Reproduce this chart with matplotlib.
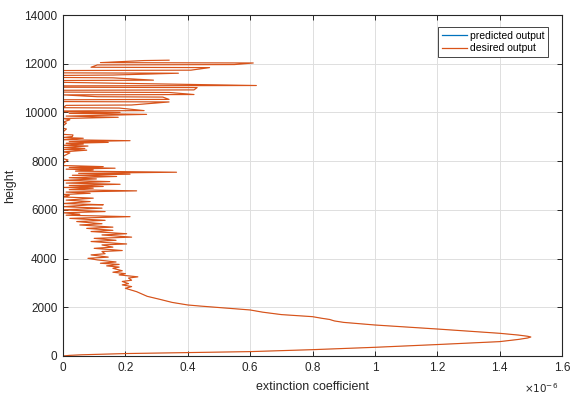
"""
Extinction coefficient profile: predicted vs desired output (MATLAB-style figure).
"""

import matplotlib
matplotlib.use("Agg")
import matplotlib.pyplot as plt
from matplotlib.lines import Line2D

plt.rcParams["font.family"] = ["Liberation Sans", "DejaVu Sans"]

# --------------------------------------------------------------------------- #
#  Data (extinction coefficient in units of 1e-6)
# --------------------------------------------------------------------------- #
height = [
    # smooth boundary layer part
    0, 25, 50, 100, 140, 180, 260, 357, 470, 590, 680, 740, 780, 810, 860,
    932, 1020, 1108, 1190, 1273, 1380, 1440, 1500, 1548, 1615, 1700, 1800,
    1890, 1990, 2050, 2095, 2200, 2328, 2450, 2641, 2780,
    # jagged part
    2850, 2920, 2970, 3060, 3110, 3200, 3250, 3330, 3380, 3440, 3500, 3600,
    3650, 3700, 3760, 3808, 3860, 3945, 4010, 4060, 4150, 4200, 4290, 4330,
    4420, 4470, 4560, 4600, 4700, 4750, 4830, 4880, 4970, 5020, 5110, 5160,
    5240, 5290, 5380, 5430, 5520, 5570, 5650, 5690, 5720, 5780, 5820, 5880,
    5930, 6000, 6070, 6130, 6200,
    # spiky middle part
    6210, 6260, 6340, 6400, 6480, 6530, 6590, 6630, 6680, 6730, 6780, 6830,
    6890, 6920, 6960, 7000, 7050, 7100, 7160, 7210, 7270, 7320, 7370, 7420,
    7465, 7500, 7545, 7590, 7640, 7670, 7710, 7740, 7775, 7820, 7900, 8000,
    8050, 8100, 8200, 8340, 8380, 8450, 8480, 8520, 8560, 8620, 8650, 8700,
    8730, 8770, 8800, 8840, 8880, 8940, 8970, 9010, 9075, 9100, 9200, 9320,
    9350, 9450, 9560, 9600, 9700, 9750, 9800, 9850, 9920, 9960, 10000, 10030,
    # noisy upper part
    10060, 10075, 10180, 10195, 10290, 10305, 10430, 10445, 10520, 10535,
    10630, 10645, 10720, 10735, 10820, 10835, 10910, 10925, 11020, 11035,
    11090, 11105, 11220, 11235, 11310, 11325, 11420, 11435, 11520, 11535,
    11610, 11625, 11720, 11735, 11840, 11855, 11950, 11965, 12030, 12045,
    12130, 12145,
]

desired = [
    0.0, 0.02, 0.06, 0.2, 0.4, 0.6, 0.8, 1.0, 1.2, 1.4, 1.46, 1.49, 1.5, 1.49, 1.46,
    1.4, 1.3, 1.2, 1.1, 1.0, 0.9, 0.87, 0.855, 0.83, 0.8, 0.7, 0.64,
    0.6, 0.5, 0.44, 0.4, 0.35, 0.31, 0.27, 0.236, 0.20,
    0.22, 0.19, 0.21, 0.19, 0.22, 0.21, 0.24, 0.18, 0.20, 0.16, 0.19, 0.16,
    0.18, 0.14, 0.18, 0.12, 0.17, 0.11, 0.08, 0.145, 0.09, 0.135, 0.125, 0.19,
    0.10, 0.16, 0.125, 0.204, 0.09, 0.17, 0.10, 0.22, 0.125, 0.204, 0.09, 0.16,
    0.076, 0.16, 0.054, 0.125, 0.044, 0.135, 0.022, 0.125, 0.215, 0.01, 0.054, 0.0,
    0.135, 0.0, 0.125, 0.0, 0.08,
    0.129, 0.0, 0.087, 0.01, 0.097, 0.0, 0.02, 0.0, 0.087, 0.01, 0.236, 0.02,
    0.097, 0.0, 0.129, 0.02, 0.183, 0.01, 0.15, 0.0, 0.107, 0.02, 0.172, 0.03,
    0.215, 0.05, 0.364, 0.04, 0.097, 0.01, 0.167, 0.02, 0.129, 0.0, 0.0, 0.01,
    0.016, 0.0, 0.0, 0.022, 0.0, 0.076, 0.0, 0.07, 0.005, 0.08, 0.0, 0.065,
    0.01, 0.145, 0.02, 0.215, 0.0, 0.065, 0.0, 0.03, 0.032, 0.0, 0.0, 0.011,
    0.0, 0.0, 0.011, 0.0, 0.022, 0.0, 0.177, 0.01, 0.268, 0.02, 0.183, 0.0,
    0.0, 0.26, 0.18, 0.0, 0.01, 0.22, 0.34, 0.0, 0.0, 0.34,
    0.32, 0.11, 0.0, 0.42, 0.34, 0.0, 0.0, 0.42, 0.43, 0.0,
    0.0, 0.62, 0.07, 0.0, 0.0, 0.29, 0.16, 0.0, 0.0, 0.16,
    0.37, 0.0, 0.0, 0.41, 0.47, 0.09, 0.11, 0.55, 0.61, 0.12,
    0.26, 0.34,
]

# the network output sits underneath the target almost everywhere
predicted = list(desired)

x_ticks = [0, 0.2, 0.4, 0.6, 0.8, 1.0, 1.2, 1.4, 1.6]
x_tick_labels = ["0", "0.2", "0.4", "0.6", "0.8", "1", "1.2", "1.4", "1.6"]
y_ticks = [0, 2000, 4000, 6000, 8000, 10000, 12000, 14000]
series_labels = ["predicted output", "desired output"]

# MATLAB default colours
BLUE = "#0072BD"
ORANGE = "#D95319"
AXIS_GREY = "#262626"

fig = plt.figure(figsize=(5.70, 3.94), dpi=100)
ax = fig.add_axes([63 / 570, 1 - 356 / 394, (562 - 63) / 570, (356 - 15) / 394])

# blue is drawn first and fully hidden by the orange target line
ax.plot(predicted, height, color=BLUE, linewidth=0.3, alpha=0.25)
ax.plot(desired, height, color=ORANGE, linewidth=0.85)

ax.set_xlim(0, 1.6)
ax.set_ylim(0, 14000)
ax.set_xticks(x_ticks)
ax.set_xticklabels(x_tick_labels)
ax.set_yticks(y_ticks)

ax.grid(True, color="#dedede", linewidth=0.7)
ax.set_axisbelow(True)
for side in ax.spines.values():
    side.set_color(AXIS_GREY)
    side.set_linewidth(0.8)
ax.tick_params(direction="in", length=3.5, width=0.7, colors=AXIS_GREY,
               labelsize=8.5, top=True, right=True, pad=4)

ax.set_xlabel("extinction coefficient", fontsize=9, color=AXIS_GREY, labelpad=5)
ax.set_ylabel("height", fontsize=9, color=AXIS_GREY, labelpad=6)

# exponent marker like MATLAB's axis multiplier
ax.text(0.992, -0.095, r"$\times10^{-6}$", transform=ax.transAxes,
        ha="right", va="center", fontsize=7.5, color=AXIS_GREY)

legend_handles = [Line2D([], [], color=BLUE, linewidth=0.9),
                  Line2D([], [], color=ORANGE, linewidth=0.9)]
leg = ax.legend(legend_handles, series_labels, loc="upper right",
                bbox_to_anchor=(548 / 570, 1 - 27 / 394),
                bbox_transform=fig.transFigure, borderaxespad=0,
                fontsize=7.5, handlelength=2.4, handletextpad=0.3,
                borderpad=0.35, labelspacing=0.25, fancybox=False,
                framealpha=1, edgecolor=AXIS_GREY)
leg.get_frame().set_linewidth(0.6)

fig.savefig("out.png", dpi=100)
plt.close(fig)
